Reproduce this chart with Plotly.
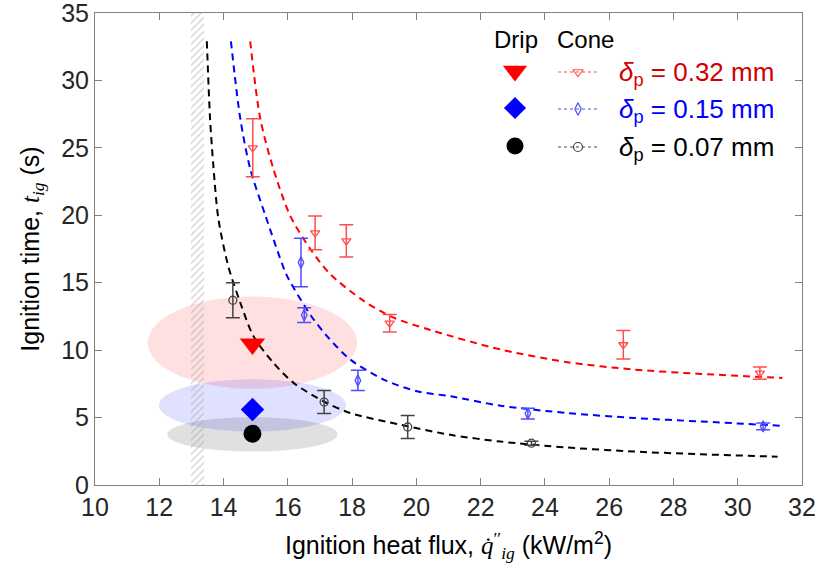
import plotly.graph_objects as go

# ---------------- data ----------------
# Cone calorimeter data (mean ignition time and error)
red_x = [14.91, 16.85, 17.82, 19.17, 26.44, 30.69]
red_y = [25.0, 18.7, 18.1, 12.0, 10.4, 8.3]
red_err = [2.15, 1.25, 1.2, 0.65, 1.05, 0.45]

blue_x = [16.41, 16.51, 18.18, 23.47, 30.79]
blue_y = [16.5, 12.6, 7.75, 5.3, 4.35]
blue_err = [1.8, 0.55, 0.75, 0.4, 0.25]

black_x = [14.29, 17.13, 19.73, 23.58]
black_y = [13.7, 6.15, 4.3, 3.1]
black_err = [1.3, 0.85, 0.85, 0.15]

# Fitted curves
red_fit_x = [14.83, 15.14, 15.55, 16.07, 16.7, 17.32, 18.36, 19.29, 20.44, 22.62, 24.69, 26.77, 28.85, 31.39]
red_fit_y = [32.9, 27.2, 23.45, 19.98, 17.5, 15.64, 13.65, 12.41, 11.49, 10.05, 9.11, 8.56, 8.24, 7.94]

blue_fit_x = [14.23, 14.52, 14.83, 15.3, 15.87, 16.02, 16.72, 17.27, 17.94, 18.98, 20.02, 21.06, 22.62, 24.69, 26.77, 28.85, 31.39]
blue_fit_y = [32.9, 27.18, 23.45, 20.0, 16.1, 15.3, 12.55, 10.9, 9.31, 7.82, 6.95, 6.58, 5.88, 5.34, 4.97, 4.71, 4.39]

black_fit_x = [13.48, 13.58, 13.69, 13.84, 14.15, 14.52, 14.93, 15.55, 16.18, 17.11, 17.94, 19.5, 21.06, 22.62, 24.69, 26.77, 28.85, 31.24]
black_fit_y = [32.9, 27.18, 23.45, 19.73, 16.2, 13.53, 11.04, 9.06, 7.57, 6.2, 5.34, 4.47, 3.72, 3.22, 2.78, 2.48, 2.28, 2.1]

# Drip test data (markers) and their spread (ellipses)
drip_x = [14.9, 14.9, 14.9]
drip_y = [10.45, 5.6, 3.8]
drip_band_y = [10.55, 5.9, 3.75]
drip_band_xerr = [3.26, 2.91, 2.65]
drip_band_yerr = [3.42, 1.95, 1.27]

# Critical heat flux band
hatch_range = [13.0, 13.4]

labels = ["0.32", "0.15", "0.07"]
x_ticks = [10, 12, 14, 16, 18, 20, 22, 24, 26, 28, 30, 32]
y_ticks = [0, 5, 10, 15, 20, 25, 30, 35]

FONT = "Liberation Sans, Arial, sans-serif"

fig = go.Figure()

# hatched band
fig.add_trace(go.Bar(
    x=[(hatch_range[0] + hatch_range[1]) / 2], y=[35], base=0,
    width=[hatch_range[1] - hatch_range[0]],
    marker=dict(color="rgba(0,0,0,0)", line=dict(width=0),
                pattern=dict(shape="/", fgcolor="#a0a0a0", size=5, solidity=0.25)),
    showlegend=False, hoverinfo="skip"))

# ellipses
ell_colors = ["rgba(255,0,0,0.12)", "rgba(0,0,255,0.12)", "rgba(0,0,0,0.12)"]
for cx, cy, rx, ry, col in zip(drip_x, drip_band_y, drip_band_xerr, drip_band_yerr, ell_colors):
    fig.add_shape(type="circle", xref="x", yref="y",
                  x0=cx - rx, x1=cx + rx, y0=cy - ry, y1=cy + ry,
                  fillcolor=col, line=dict(width=0), layer="below")

fit_dash = "7px,5px"
for fx, fy, col in [(red_fit_x, red_fit_y, "#ff0000"), (blue_fit_x, blue_fit_y, "#0000ff"),
                    (black_fit_x, black_fit_y, "#000000")]:
    fig.add_trace(go.Scatter(x=fx, y=fy, mode="lines",
                             line=dict(color=col, width=2, dash=fit_dash, shape="spline", smoothing=0.8),
                             showlegend=False, hoverinfo="skip"))

cone_specs = [
    (red_x, red_y, red_err, "triangle-down-open", "#ff4d4d"),
    (blue_x, blue_y, blue_err, "diamond-tall-open", "#4d4dff"),
    (black_x, black_y, black_err, "circle-open", "#444444"),
]
for cx, cy, ce, sym, col in cone_specs:
    fig.add_trace(go.Scatter(x=cx, y=cy, mode="markers",
                             marker=dict(symbol=sym, size=8, color=col, line=dict(width=1.3, color=col)),
                             error_y=dict(type="data", array=ce, color=col, thickness=1.5, width=7),
                             showlegend=False))

drip_specs = [("triangle-down", 22, "#ff0000"), ("diamond", 18, "#0000ff"), ("circle", 18, "#000000")]
for i, (sym, sz, col) in enumerate(drip_specs):
    fig.add_trace(go.Scatter(x=[drip_x[i]], y=[drip_y[i]], mode="markers",
                             marker=dict(symbol=sym, size=sz, color=col, line=dict(width=0)),
                             showlegend=False))

# ---------------- custom legend on an overlay axis ----------------
L = 95.0; R = 802.0; T = 13.0; B = 485.0
def fxp(px):
    return (px - L) / (R - L)
def fyp(py):
    return (B - py) / (B - T)

row_y = [71, 108, 146]
text_cols = ["#d00000", "#0000ff", "#000000"]
leg_cone_sym = ["triangle-down-open", "diamond-tall-open", "circle-open"]
leg_cone_col = ["#ff4d4d", "#4d4dff", "#444444"]
for i in range(3):
    fig.add_trace(go.Scatter(x=[fxp(515)], y=[fyp(row_y[i])], xaxis="x2", yaxis="y2", mode="markers",
                             marker=dict(symbol=drip_specs[i][0], size=drip_specs[i][1] - 1,
                                         color=drip_specs[i][2], line=dict(width=0)),
                             showlegend=False, hoverinfo="skip"))
    fig.add_trace(go.Scatter(x=[fxp(558), fxp(598)], y=[fyp(row_y[i] + 1)] * 2, xaxis="x2", yaxis="y2",
                             mode="lines", line=dict(color=leg_cone_col[i], width=1, dash="3px,3px"),
                             showlegend=False, hoverinfo="skip"))
    fig.add_trace(go.Scatter(x=[fxp(578)], y=[fyp(row_y[i] + 1)], xaxis="x2", yaxis="y2", mode="markers",
                             marker=dict(symbol=leg_cone_sym[i], size=9, color=leg_cone_col[i],
                                         line=dict(width=1.2, color=leg_cone_col[i])),
                             showlegend=False, hoverinfo="skip"))

annotations = [
    dict(x=fxp(516), y=fyp(40), xref="paper", yref="paper", text="Drip", showarrow=False,
         font=dict(family=FONT, size=24, color="black"), xanchor="center", yanchor="middle"),
    dict(x=fxp(585), y=fyp(40), xref="paper", yref="paper", text="Cone", showarrow=False,
         font=dict(family=FONT, size=24, color="black"), xanchor="center", yanchor="middle"),
]
for i in range(3):
    annotations.append(dict(
        x=fxp(617), y=fyp(row_y[i] + 2), xref="paper", yref="paper",
        text="<i>δ</i><sub>p</sub> = " + labels[i] + " mm", showarrow=False,
        font=dict(family=FONT, size=26, color=text_cols[i]), xanchor="left", yanchor="middle"))

axis_common = dict(showgrid=False, zeroline=False, showline=True, linecolor="#808080", linewidth=1,
                   mirror="ticks", ticks="inside", ticklen=7, tickwidth=1, tickcolor="#808080",
                   tickfont=dict(family=FONT, size=25, color="#262626"), automargin=False,
                   ticklabeloverflow="allow")

fig.update_layout(
    width=820, height=575,
    margin=dict(l=95, r=18, t=13, b=90),
    paper_bgcolor="white", plot_bgcolor="white",
    showlegend=False, barmode="overlay", bargap=0,
    xaxis=dict(range=[10, 32], tickvals=x_ticks, ticktext=[str(v) for v in x_ticks],
               title=dict(text="Ignition heat flux, <span style='font-family:Liberation Serif'><i>q̇</i><sup>′′</sup><sub><i>ig</i></sub></span> (kW/m<sup>2</sup>)",
                          font=dict(family=FONT, size=25, color="black"), standoff=16),
               **axis_common),
    yaxis=dict(range=[0, 35], tickvals=y_ticks, ticktext=[str(v) for v in y_ticks],
               title=dict(text="Ignition time, <span style='font-family:Liberation Serif'><i>t</i><sub><i>ig</i></sub></span> (s)",
                          font=dict(family=FONT, size=25, color="black"), standoff=14),
               **axis_common),
    xaxis2=dict(overlaying="x", range=[0, 1], visible=False, anchor="y2"),
    yaxis2=dict(overlaying="y", range=[0, 1], visible=False, anchor="x2"),
    annotations=annotations,
)

fig.write_html("out.html", post_script="document.body.style.margin='0px';",
               config={"displayModeBar": False})
